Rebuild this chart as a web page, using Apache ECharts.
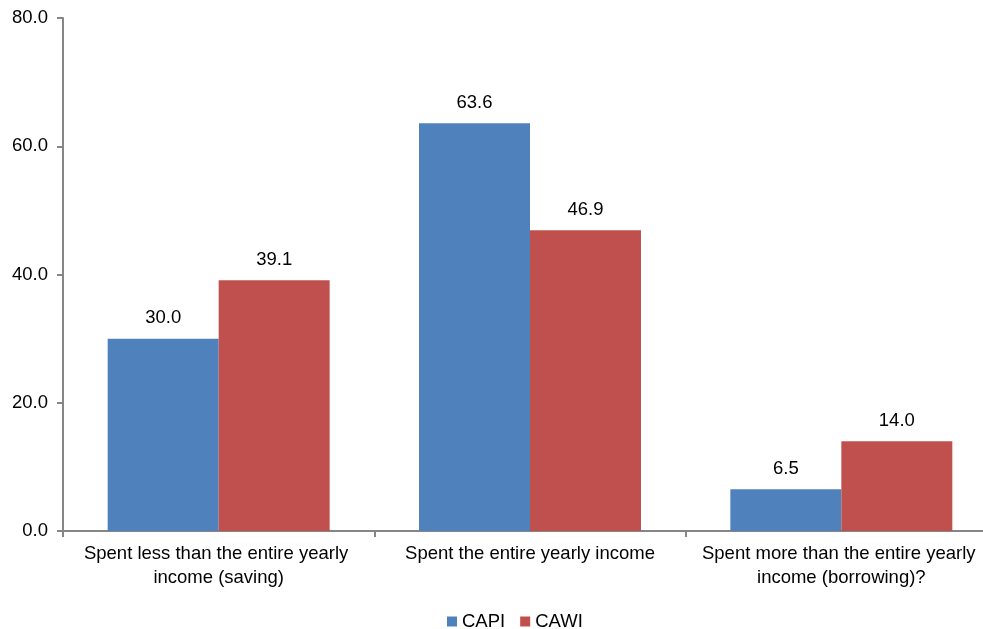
<!DOCTYPE html>
<html>
<head>
<meta charset="utf-8">
<script src="https://cdn.jsdelivr.net/npm/echarts@6/dist/echarts.min.js"></script>
<style>
html,body{margin:0;padding:0;background:#fff;}
#chart{width:983px;height:629px;}
</style>
</head>
<body>
<div id="chart"></div>
<script>
const categories = [
  "Spent less than the entire yearly income (saving)",
  "Spent the entire yearly income",
  "Spent more than the entire yearly income (borrowing)?"
];
const seriesNames = ["CAPI", "CAWI"];
const capiValues = [30.0, 63.6, 6.5];
const cawiValues = [39.1, 46.9, 14.0];
const yTicks = [0, 20, 40, 60, 80];

const chart = echarts.init(document.getElementById('chart'));
const font = 'Liberation Sans, Arial, sans-serif';
const fs = 18.5;
const labelCfg = {
  show: true, position: 'top', distance: 11,
  fontFamily: font, fontSize: fs, color: '#000',
  formatter: p => p.value.toFixed(1)
};
chart.setOption({
  animation: false,
  textStyle: { fontFamily: font },
  grid: { left: 63, width: 934, top: 18, height: 513, containLabel: false, outerBoundsMode: 'none' },
  legend: {
    top: 607, left: 442,
    itemWidth: 10, itemHeight: 10, itemGap: 15,
    icon: 'rect',
    itemStyle: { borderWidth: 0 },
    textStyle: { fontFamily: font, fontSize: fs, color: '#000' },
    data: seriesNames
  },
  xAxis: {
    type: 'category',
    data: categories,
    axisLine: { lineStyle: { color: '#868686', width: 2 } },
    axisTick: { show: true, alignWithLabel: false, length: 6, lineStyle: { color: '#868686', width: 2 } },
    axisLabel: {
      fontFamily: font, fontSize: fs, color: '#000', margin: 11,
      lineHeight: 24, width: 300, overflow: 'break', interval: 0
    }
  },
  yAxis: {
    type: 'value',
    min: yTicks[0], max: yTicks[yTicks.length - 1], interval: 20,
    splitLine: { show: false },
    axisLine: { show: true, lineStyle: { color: '#868686', width: 2 } },
    axisTick: { show: true, length: 6, lineStyle: { color: '#868686', width: 2 } },
    axisLabel: {
      fontFamily: font, fontSize: fs, color: '#000', margin: 15,
      formatter: v => v.toFixed(1)
    }
  },
  series: [
    {
      name: seriesNames[0], type: 'bar', data: capiValues,
      barGap: '0%', barCategoryGap: '28.7%',
      itemStyle: { color: '#4F81BD' },
      label: labelCfg
    },
    {
      name: seriesNames[1], type: 'bar', data: cawiValues,
      barGap: '0%', barCategoryGap: '28.7%',
      itemStyle: { color: '#C0504D' },
      label: labelCfg
    }
  ]
});
</script>
</body>
</html>
